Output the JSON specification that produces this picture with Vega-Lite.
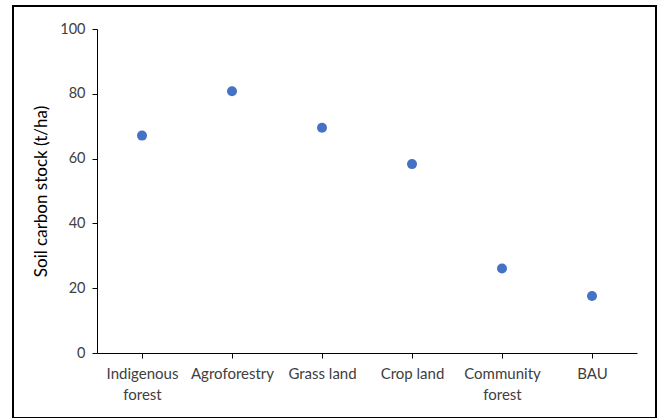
{
  "$schema": "https://vega.github.io/schema/vega-lite/v6.json",
  "width": 643,
  "height": 412,
  "autosize": "none",
  "padding": {"left": 13, "top": 6, "right": 6, "bottom": 0},
  "background": "white",
  "config": {
    "view": {"stroke": "#000000", "strokeWidth": 2},
    "font": "Lato",
    "axis": {"grid": false, "domainColor": "#000000", "tickColor": "#000000", "labelColor": "#404040", "labelFont": "Lato", "labelFontSize": 15, "titleFont": "Lato", "titleFontSize": 17, "titleFontWeight": "normal", "titleColor": "#000000"}
  },
  "data": {
    "values": [
      {"landuse": "Indigenous forest", "soc": 67.1},
      {"landuse": "Agroforestry", "soc": 80.8},
      {"landuse": "Grass land", "soc": 69.5},
      {"landuse": "Crop land", "soc": 58.3},
      {"landuse": "Community forest", "soc": 26.1},
      {"landuse": "BAU", "soc": 17.6}
    ]
  },
  "mark": {"type": "point", "filled": true, "opacity": 1, "size": 100, "color": "#4472C4"},
  "encoding": {
    "x": {
      "field": "landuse",
      "type": "nominal",
      "sort": null,
      "scale": {"type": "point", "range": [84, 624], "padding": 0.5},
      "axis": {
        "title": null,
        "offset": -65,
        "labelAngle": 0,
        "tickSize": 5,
        "labelPadding": 8,
        "labelLineHeight": 21,
        "labelExpr": "datum.value == 'Indigenous forest' ? ['Indigenous', 'forest'] : datum.value == 'Community forest' ? ['Community', 'forest'] : datum.value"
      }
    },
    "y": {
      "field": "soc",
      "type": "quantitative",
      "scale": {"domain": [0, 100], "range": [347, 23], "nice": false},
      "axis": {
        "title": "Soil carbon stock (t/ha)",
        "offset": -84,
        "values": [0, 20, 40, 60, 80, 100],
        "labelFontSize": 14.5,
        "tickSize": 5,
        "labelPadding": 7,
        "titlePadding": 9
      }
    }
  }
}
